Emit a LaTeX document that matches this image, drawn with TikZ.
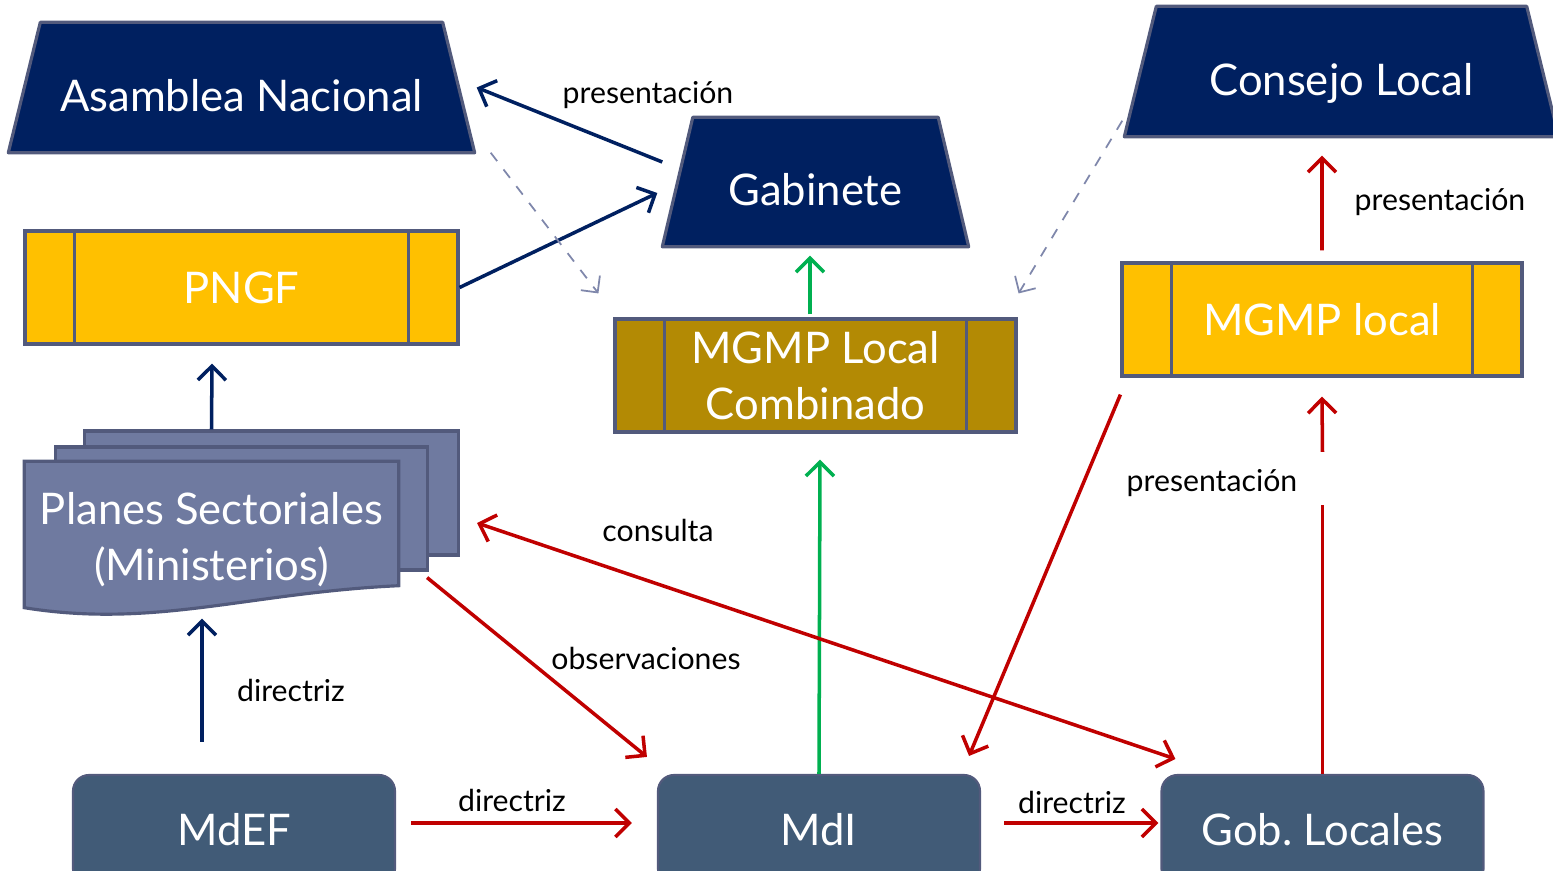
\documentclass[tikz,border=0pt]{standalone}
\usepackage{fontspec}
\setmainfont{Lato}
\usetikzlibrary{arrows.meta,backgrounds}
\definecolor{navy}{HTML}{002060}
\definecolor{edge}{HTML}{525A7C}
\definecolor{gold}{HTML}{FFC000}
\definecolor{olive}{HTML}{B38A04}
\definecolor{slate}{HTML}{6F7AA0}
\definecolor{boxblue}{HTML}{415B77}
\definecolor{darkred}{HTML}{C00000}
\definecolor{green}{HTML}{00B050}
\definecolor{dashcol}{HTML}{7F87AB}
\tikzset{
big/.style={font=\fontsize{12.4}{16}\selectfont, text=white, align=center},
lbl/.style={font=\fontsize{8.6}{10}\selectfont, text=black},
trap/.style={big, rectangle, inner sep=0pt, text height=13.6pt, text depth=0pt},
trapfill/.style={draw=edge, fill=navy, line width=0.9pt, line join=round},
proc/.style={big, rectangle, draw=edge, line width=0.9pt, minimum height=11.3mm},
org/.style={big, rectangle, rounded corners=1.6mm, fill=boxblue, draw=edge,
  line width=0.6pt, minimum width=32.2mm, minimum height=11mm},
doc/.style={rectangle, draw=edge, fill=slate, line width=0.9pt},
tip/.style={-{Straight Barb[length=1.4mm,width=2.8mm]}},
navyarrow/.style={tip, draw=navy, line width=1pt},
redarrow/.style={tip, draw=darkred, line width=1pt},
greenarrow/.style={tip, draw=green, line width=1pt},
dasharrow/.style={-{Straight Barb[length=1.2mm,width=2.4mm]}, draw=dashcol, line width=0.5pt, dashed}
}
\begin{document}
\begin{tikzpicture}[x=0.1mm,y=-0.1mm]
\useasboundingbox (0,0) rectangle (1553,871);
% top row
\node[trap, minimum width=46.5mm, minimum height=12.9mm] (asamblea) at (241.5,87.5) {Asamblea Nacional};
\node[trap, minimum width=30.5mm, minimum height=12.8mm] (gabinete) at (815.5,182) {Gabinete};
\node[trap, minimum width=43.3mm, minimum height=12.9mm] (consejo) at (1341.5,71.5) {Consejo Local};
\begin{pgfonlayer}{background}
\foreach \n/\o in {asamblea/3.2mm, gabinete/3.05mm, consejo/3.2mm}
\draw[trapfill] (\n.south west) -- ([xshift=\o]\n.north west) -- ([xshift=-\o]\n.north east) -- (\n.south east) -- cycle;
\end{pgfonlayer}
% plans
\node[proc, fill=gold, minimum width=43.3mm] (pngf) at (241.5,287.5) {PNGF};
\node[proc, fill=olive, minimum width=40.1mm] (mgmpcomb) at (815.5,375.5) {MGMP Local\\Combinado};
\node[proc, fill=gold, minimum width=40mm] (mgmplocal) at (1322,319.5) {MGMP local};
\foreach \n in {pngf,mgmpcomb,mgmplocal}{
\draw[edge, line width=0.9pt] ([xshift=5.1mm]\n.north west) -- ([xshift=5.1mm]\n.south west);
\draw[edge, line width=0.9pt] ([xshift=-5.1mm]\n.north east) -- ([xshift=-5.1mm]\n.south east);
}
% sectoral plans (stack of documents)
\node[doc, minimum width=37.4mm, minimum height=12.4mm] (planesb) at (271.5,493) {};
\node[doc, minimum width=37.2mm, minimum height=12.3mm] (planesm) at (241.5,508.5) {};
\node[minimum width=37.3mm, minimum height=14.8mm, inner sep=0pt] (planes) at (211.5,536) {};
\draw[edge, fill=slate, line width=0.9pt] (planes.north west) -- (planes.north east)
 -- ([yshift=2.5mm]planes.south east)
 .. controls ([shift={(-15mm,1.8mm)}]planes.south east) and ([shift={(13mm,-1.8mm)}]planes.south west) ..
 ([yshift=0.3mm]planes.south west) -- cycle;
\node[big] (planestxt) at ([yshift=-0.4mm]planes) {Planes Sectoriales\\(Ministerios)};
% ministries
\node[org] (mdef) at (234,830) {MdEF};
\node[org] (mdi) at (819,830) {MdI};
\node[org] (gob) at (1322.5,830) {Gob.\ Locales};
% connectors
\draw[navyarrow] ([yshift=2mm]gabinete.west) -- ([xshift=0.2mm]asamblea.east);
\draw[navyarrow] (pngf.east) -- ([shift={(-0.5mm,-1.1mm)}]gabinete.west);
\draw[navyarrow] ([xshift=-6mm]planesb.north) -- ([shift={(-2.95mm,-1.8mm)}]pngf.south);
\draw[navyarrow] ([shift={(-3.2mm,3.2mm)}]mdef.north) -- ([shift={(-0.95mm,-0.8mm)}]planes.south);
\draw[dasharrow] ([xshift=1.6mm]asamblea.south east) -- ([shift={(-1.5mm,2.4mm)}]mgmpcomb.north west);
\draw[dasharrow] ([shift={(-0.2mm,1.6mm)}]consejo.south west) -- ([shift={(0.1mm,2.4mm)}]mgmpcomb.north east);
\draw[greenarrow] ([shift={(-0.55mm,0.3mm)}]mgmpcomb.north) -- ([shift={(-0.55mm,-0.9mm)}]gabinete.south);
\draw[greenarrow] (mdi.north) -- ([shift={(0.45mm,-2.6mm)}]mgmpcomb.south);
\draw[redarrow] ([shift={(1.5mm,0.7mm)}]mdef.east) -- ([shift={(-2.5mm,0.7mm)}]mdi.west);
\draw[redarrow] ([shift={(2.3mm,0.7mm)}]mdi.east) -- ([shift={(-0.2mm,0.7mm)}]gob.west);
\draw[redarrow] ([shift={(-0.2mm,-0.6mm)}]planesm.south east) -- ([shift={(-1mm,1.7mm)}]mdi.north west);
\draw[redarrow, {Straight Barb[length=1.4mm,width=2.8mm]}-{Straight Barb[length=1.4mm,width=2.8mm]}]
 ([shift={(1.7mm,-3mm)}]planesb.east) -- ([shift={(1.5mm,1.5mm)}]gob.north west);
\draw[redarrow] ([yshift=-1.7mm]mgmplocal.south west) -- ([shift={(-1.2mm,1.8mm)}]mdi.north east);
\draw[darkred, line width=1pt] (gob.north) -- ([yshift=26.9mm]gob.north);
\draw[redarrow] ([yshift=32.2mm]gob.north) -- ([yshift=-1.9mm]mgmplocal.south);
\draw[redarrow] ([yshift=1.1mm]mgmplocal.north) -- ([shift={(-1.95mm,-1.9mm)}]consejo.south);
% labels
\node[lbl] (l1) at (648,95) {presentación};
\node[lbl] (l2) at (1440,202) {presentación};
\node[lbl] (l3) at (1212,483) {presentación};
\node[lbl] (l4) at (291,690) {directriz};
\node[lbl] (l5) at (512,800) {directriz};
\node[lbl] (l6) at (1072,802) {directriz};
\node[lbl] (l7) at (658,530) {consulta};
\node[lbl] (l8) at (646,658) {observaciones};
\end{tikzpicture}
\end{document}
